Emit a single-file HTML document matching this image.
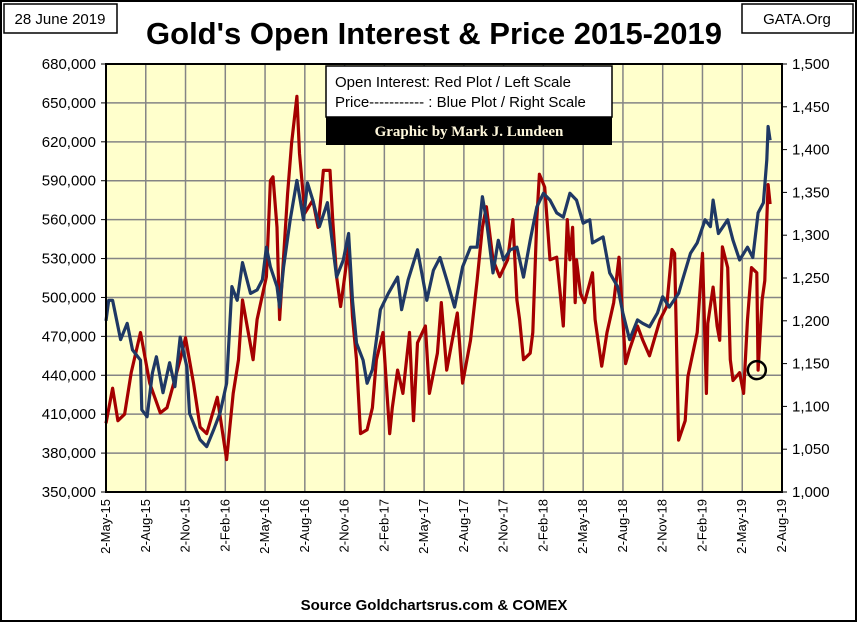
<!DOCTYPE html>
<html><head><meta charset="utf-8"><style>
html,body{margin:0;padding:0;background:#fff;}
svg{display:block;font-family:"Liberation Sans",sans-serif;}
</style></head><body>
<svg id="chart" width="858" height="623" viewBox="0 0 858 623">
<rect x="1" y="1" width="855" height="620" fill="#fff" stroke="#000" stroke-width="2"/>
<rect x="4" y="4" width="113" height="29" fill="#fff" stroke="#000" stroke-width="1.5"/>
<text x="60" y="24" text-anchor="middle" font-size="15">28 June 2019</text>
<rect x="742" y="4" width="111" height="29" fill="#fff" stroke="#000" stroke-width="1.5"/>
<text x="797" y="24" text-anchor="middle" font-size="15">GATA.Org</text>
<text x="434" y="44" text-anchor="middle" font-size="31" font-weight="bold">Gold's Open Interest &amp; Price 2015-2019</text>
<rect x="106" y="64" width="676" height="428" fill="#FFFFCC"/>
<g id="grid"></g>
<g id="axes"></g>
<g id="series"></g>
<rect x="106" y="64" width="676" height="428" fill="none" stroke="#000" stroke-width="2"/>
<rect x="326" y="66" width="286" height="51" fill="#fff" stroke="#000" stroke-width="1.5"/>
<text x="335" y="87" font-size="15">Open Interest:  Red Plot / Left Scale</text>
<text x="335" y="107" font-size="15">Price----------- : Blue Plot / Right Scale</text>
<rect x="326" y="117" width="286" height="28" fill="#000"/>
<text x="469" y="136" text-anchor="middle" font-size="15" font-weight="bold" fill="#FFF8DC" font-family="Liberation Serif,serif">Graphic by Mark J. Lundeen</text>
<text x="434" y="610" text-anchor="middle" font-size="15" font-weight="bold">Source Goldchartsrus.com &amp; COMEX</text>
</svg>
<script>
const xTickLabels=["2-May-15","2-Aug-15","2-Nov-15","2-Feb-16","2-May-16","2-Aug-16","2-Nov-16","2-Feb-17","2-May-17","2-Aug-17","2-Nov-17","2-Feb-18","2-May-18","2-Aug-18","2-Nov-18","2-Feb-19","2-May-19","2-Aug-19"];
const leftTicks=[350000,380000,410000,440000,470000,500000,530000,560000,590000,620000,650000,680000];
const rightTicks=[1000,1050,1100,1150,1200,1250,1300,1350,1400,1450,1500];
// months since 2-May-15
const oiMonths=[0,0.5,0.9,1.4,1.9,2.6,3.3,4.1,4.6,5.6,6.0,6.6,7.1,7.6,8.4,9.1,9.6,10.0,10.3,11.1,11.4,12.1,12.4,12.6,12.9,13.1,13.7,14.0,14.4,14.6,15.0,15.6,16.0,16.4,16.9,17.1,17.4,17.7,17.9,18.3,18.6,18.9,19.2,19.7,20.1,20.4,20.9,21.2,21.4,21.6,22.0,22.4,22.9,23.2,23.5,24.1,24.4,25.0,25.3,25.7,26.5,26.9,27.5,28.0,28.4,28.7,29.2,29.7,30.3,30.7,31.0,31.2,31.5,32.0,32.2,32.5,32.7,33.1,33.5,34.0,34.3,34.5,34.8,35.0,35.2,35.4,35.5,35.8,36.1,36.7,36.9,37.4,37.8,38.3,38.7,39.2,39.5,40.1,40.5,41.0,41.8,42.3,42.7,42.9,43.2,43.7,43.9,44.6,45.0,45.3,45.4,45.8,46.1,46.3,46.5,46.9,47.1,47.3,47.8,48.1,48.4,48.7,49.1,49.2,49.5,49.7,49.85,49.95,50.1];
const oiValues=[403,430,405,410,442,473,434,411,415,452,469,434,400,395,423,375,426,452,498,452,483,516,590,593,554,483,580,619,655,611,565,575,554,598,598,560,516,493,508,539,485,452,395,398,415,452,473,426,395,415,444,426,473,405,465,478,426,457,496,444,488,434,467,513,554,570,529,516,529,560,498,483,452,457,473,560,595,585,529,531,500,478,560,529,554,496,529,503,496,519,483,447,473,496,531,449,460,478,467,455,483,493,537,534,390,405,439,473,534,426,480,508,478,467,539,523,452,436,442,426,483,523,519,444,498,513,560,587,572];
const priceMonths=[0,0.2,0.5,1.1,1.6,2.0,2.6,2.7,3.1,3.5,3.8,4.3,4.8,5.2,5.6,6.1,6.3,7.1,7.6,8.1,8.6,9.1,9.5,9.9,10.3,10.9,11.4,11.8,12.1,12.4,12.9,13.1,13.4,13.9,14.4,14.9,15.2,15.6,16.1,16.7,17.4,17.9,18.3,18.6,18.9,19.4,19.7,20.1,20.7,21.3,22.0,22.3,22.8,23.5,24.2,24.7,25.2,25.7,26.3,26.9,27.5,28.0,28.4,28.7,29.2,29.6,30.0,30.5,31.0,31.5,32.0,32.5,33.0,33.5,34.0,34.5,35.0,35.5,36.0,36.5,36.7,37.5,38.0,38.6,39.0,39.5,40.1,40.5,41.0,41.6,42.0,42.5,43.2,43.5,44.1,44.6,45.2,45.6,45.8,46.2,46.9,47.3,47.8,48.4,48.8,49.2,49.6,49.85,49.95,50.1];
const priceValues=[1200,1224,1224,1178,1197,1166,1154,1096,1088,1139,1158,1116,1151,1123,1181,1146,1092,1061,1053,1072,1092,1127,1240,1224,1268,1232,1236,1248,1286,1263,1240,1216,1263,1318,1364,1318,1361,1341,1310,1338,1251,1271,1302,1224,1174,1154,1127,1143,1213,1232,1251,1213,1248,1283,1224,1259,1274,1248,1216,1263,1286,1286,1345,1318,1256,1294,1271,1283,1286,1251,1294,1333,1349,1341,1326,1321,1349,1341,1314,1318,1291,1298,1256,1240,1209,1178,1201,1197,1193,1209,1228,1216,1232,1248,1279,1291,1318,1310,1341,1302,1318,1294,1271,1286,1274,1326,1338,1388,1427,1411];
const circleMonth=49.1, circleOI=444;

const NS="http://www.w3.org/2000/svg";
const L=106,R=782,T=64,B=492;
const xS=m=>L+(m/51)*(R-L);
const yL=v=>B-(v-350000)/330000*(B-T);
const yR=v=>B-(v-1000)/500*(B-T);
function mk(tag,attrs,parent){const e=document.createElementNS(NS,tag);for(const k in attrs)e.setAttribute(k,attrs[k]);parent.appendChild(e);return e;}
const grid=document.getElementById('grid'),axes=document.getElementById('axes'),series=document.getElementById('series');
leftTicks.forEach(v=>{
  const y=yL(v);
  const g=mk('line',{x1:L,x2:R,y1:y,y2:y,stroke:'#858585','stroke-width':1.5},grid);
  
  
  const tk=mk('line',{x1:L-5,x2:L,y1:y,y2:y,stroke:'#000'},axes);
  
  
  const t=mk('text',{x:L-10,y:y+5,'text-anchor':'end','font-size':15},axes);
  t.textContent=v.toLocaleString('en-US');
  
  
});
rightTicks.forEach(v=>{
  const y=yR(v);
  const tk=mk('line',{x1:R,x2:R+5,y1:y,y2:y,stroke:'#000'},axes);
  
  
  const t=mk('text',{x:R+10,y:y+5,'font-size':15},axes);
  t.textContent=v.toLocaleString('en-US');
  
  
});
xTickLabels.forEach((lab,i)=>{
  const x=xS(i*3);
  const g=mk('line',{x1:x,x2:x,y1:T,y2:B,stroke:'#858585','stroke-width':1.5},grid);
  
  
  const t=mk('text',{x:0,y:0,'text-anchor':'end','font-size':13,transform:`translate(${x+4},${B+7}) rotate(-90)`},axes);
  t.textContent=lab;
  
  
});
const redPts=oiMonths.map((m,i)=>xS(m).toFixed(1)+','+yL(oiValues[i]*1000).toFixed(1)).join(' ');
const red=mk('polyline',{points:redPts,fill:'none',stroke:'#A50000','stroke-width':3.2,'stroke-linejoin':'round'},series);


const bluePts=priceMonths.map((m,i)=>xS(m).toFixed(1)+','+yR(priceValues[i]).toFixed(1)).join(' ');
const blue=mk('polyline',{points:bluePts,fill:'none',stroke:'#1F3864','stroke-width':3.2,'stroke-linejoin':'round'},series);


const c=mk('circle',{cx:xS(circleMonth),cy:yL(circleOI*1000),r:9,fill:'none',stroke:'#000','stroke-width':2.5},series);


</script>
</body></html>
